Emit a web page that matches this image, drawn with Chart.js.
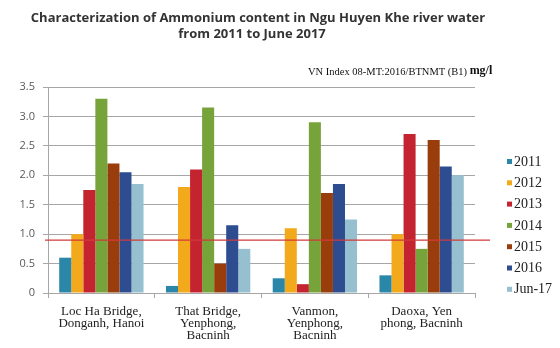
<!DOCTYPE html>
<html>
<head>
<meta charset="utf-8">
<script src="https://cdn.jsdelivr.net/npm/chart.js@4"></script>
<style>
  html, body { margin: 0; padding: 0; background: #fff; }
  #wrap { width: 560px; height: 348px; position: relative; }
</style>
</head>
<body>
<div id="wrap"><canvas id="nh4Chart"></canvas></div>
<script>
var sites = [
    ['Loc Ha Bridge,', 'Donganh, Hanoi'],
    ['That Bridge,', 'Yenphong,', 'Bacninh'],
    ['Vanmon,', 'Yenphong,', 'Bacninh'],
    ['Daoxa, Yen', 'phong, Bacninh']
];
var years = ['2011', '2012', '2013', '2014', '2015', '2016', 'Jun-17'];
var colors = ['#2a87a8', '#f3a91c', '#c42430', '#76a33a', '#9a3d0c', '#2d4d90', '#96bfd0'];

// mg/l per site, one array per year
var v2011 = [0.6, 0.12, 0.25, 0.3];
var v2012 = [1.0, 1.8, 1.1, 1.0];
var v2013 = [1.75, 2.1, 0.15, 2.7];
var v2014 = [3.3, 3.15, 2.9, 0.75];
var v2015 = [2.2, 0.5, 1.7, 2.6];
var v2016 = [2.05, 1.15, 1.85, 2.15];
var vJun17 = [1.85, 0.75, 1.25, 2.0];

var yTicks = [0, 0.5, 1, 1.5, 2, 2.5, 3, 3.5];
var limitB1 = 0.9; // QCVN 08-MT:2015 column B1

var seriesValues = [v2011, v2012, v2013, v2014, v2015, v2016, vJun17];

var datasets = years.map(function(y, i) {
    return {
        label: y,
        data: seriesValues[i],
        backgroundColor: colors[i],
        borderWidth: 0,
        categoryPercentage: 0.79,
        barPercentage: 1.0
    };
});

/* titles, B1 limit line and legend */
var decorations = {
    id: 'decorations',
    afterDatasetsDraw: function(chart) {
        var ctx = chart.ctx;
        var area = chart.chartArea;
        var y = chart.scales.y.getPixelForValue(limitB1);
        ctx.save();
        ctx.strokeStyle = '#d23a3a';
        ctx.lineWidth = 1.3;
        ctx.beginPath();
        ctx.moveTo(area.left - 3, y);
        ctx.lineTo(area.right + 15, y);
        ctx.stroke();
        ctx.restore();
    },
    afterDraw: function(chart) {
        var ctx = chart.ctx;
        ctx.save();
        ctx.fillStyle = '#333';
        ctx.textAlign = 'center';
        ctx.textBaseline = 'middle';
        ctx.font = 'bold 13px "Open Sans"';
        ctx.fillText('Characterization of Ammonium content in Ngu Huyen Khe river water', 258, 18);
        ctx.fillText('from 2011 to June 2017', 252, 34);

        ctx.textAlign = 'left';
        ctx.fillStyle = '#111';
        ctx.font = '10.5px "Liberation Serif"';
        var note = 'VN Index 08-MT:2016/BTNMT (B1) ';
        ctx.fillText(note, 308, 72);
        var w = ctx.measureText(note).width;
        ctx.font = 'bold 12px "Liberation Serif"';
        ctx.fillText('mg/l', 308 + w, 71);

        // legend
        ctx.font = '14px "Liberation Serif"';
        years.forEach(function(y, i) {
            var cy = 162 + i * 21.3;
            ctx.fillStyle = colors[i];
            ctx.fillRect(507, cy - 3, 5, 5);
            ctx.fillStyle = '#222';
            ctx.fillText(y, 514, cy);
        });
        ctx.restore();
    }
};

new Chart(document.getElementById('nh4Chart'), {
    type: 'bar',
    data: { labels: sites, datasets: datasets },
    plugins: [decorations],
    options: {
        responsive: true,
        maintainAspectRatio: false,
        animation: false,
        layout: { padding: { top: 87, right: 85, left: 0, bottom: 0 } },
        plugins: {
            legend: { display: false },
            tooltip: { enabled: false }
        },
        scales: {
            x: {
                offset: true,
                afterFit: function(scale) { scale.height = 55; },
                grid: {
                    offset: true,
                    drawOnChartArea: false,
                    drawTicks: true,
                    tickLength: 5,
                    color: '#a6a6a6'
                },
                border: { color: '#a6a6a6' },
                ticks: {
                    maxRotation: 0,
                    autoSkip: false,
                    padding: 7,
                    color: '#222',
                    font: { family: '"Liberation Serif"', size: 13, lineHeight: 0.95 }
                }
            },
            y: {
                min: 0,
                max: 3.5,
                afterFit: function(scale) { scale.width = 48; },
                afterBuildTicks: function(scale) {
                    scale.ticks = yTicks.map(function(v) { return { value: v }; });
                },
                grid: {
                    color: '#a6a6a6',
                    tickLength: 5
                },
                border: { color: '#a6a6a6' },
                ticks: {
                    padding: 8,
                    color: '#595959',
                    font: { family: '"Open Sans"', size: 11 }
                }
            }
        }
    }
});
</script>
</body>
</html>
